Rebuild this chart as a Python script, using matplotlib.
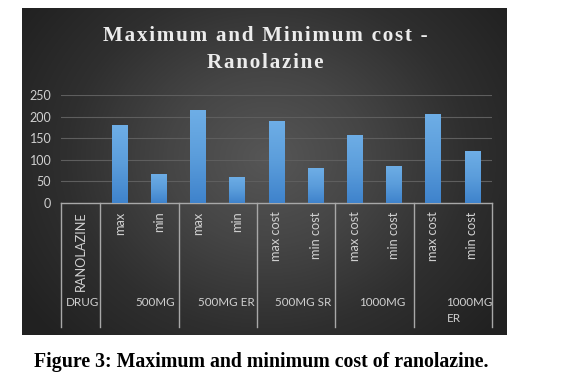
import numpy as np
import matplotlib
matplotlib.use("Agg")
import matplotlib.pyplot as plt
from matplotlib.colors import LinearSegmentedColormap
import matplotlib.transforms as mtransforms

# ---- data ----
categories = ["RANOLAZINE", "max", "min", "max", "min", "max cost", "min cost",
              "max cost", "min cost", "max cost", "min cost"]
values = [None, 180, 68, 215, 61, 190, 80, 158, 86, 207, 120]
groups = ["DRUG", "500MG", "500MG ER", "500MG SR", "1000MG", "1000MG\nER"]
group_sizes = [1, 2, 2, 2, 2, 2]
yticks = [0, 50, 100, 150, 200, 250]

W, H = 583, 380
fig = plt.figure(figsize=(W / 100, H / 100), dpi=100)
fig.patch.set_facecolor("white")

# ---- dark panel with radial gradient ----
px0, px1, py0, py1 = 22, 507, 8, 335
bg = fig.add_axes([px0 / W, 1 - py1 / H, (px1 - px0) / W, (py1 - py0) / H])
bg.set_axis_off()
nx, ny = 485, 327
xx, yy = np.meshgrid(np.arange(nx), np.arange(ny))
cx, cy = 245, 150
r = np.sqrt(((xx - cx) / 300.0) ** 2 + ((yy - cy) / 260.0) ** 2)
r = np.clip(r, 0, 1)
cmap_bg = LinearSegmentedColormap.from_list("bg", ["#565656", "#454545", "#2f2f2f", "#212121"])
bg.imshow(r, cmap=cmap_bg, vmin=0, vmax=1, aspect="auto", interpolation="bilinear")

# ---- plot axes ----
ax_l, ax_r, ax_t, ax_b = 61, 492, 95, 203
ax = fig.add_axes([ax_l / W, 1 - ax_b / H, (ax_r - ax_l) / W, (ax_b - ax_t) / H])
ax.set_facecolor("none")

n = len(categories)
x = np.arange(n)
bx = [i for i, v in enumerate(values) if v is not None]
bv = [v for v in values if v is not None]
bars = ax.bar(bx, bv, width=0.4, color="#5b9bd5", zorder=3)

# gradient fill on bars
cmap_bar = LinearSegmentedColormap.from_list("bar", ["#3f83cc", "#5b9ddb", "#6eaee6"])
grad = np.linspace(0, 1, 100).reshape(-1, 1)
for b in bars:
    x0, y0 = b.get_x(), b.get_y()
    im = ax.imshow(grad, cmap=cmap_bar, origin="lower", aspect="auto",
                   extent=(x0, x0 + b.get_width(), y0, y0 + b.get_height()), zorder=3.5)
    im.set_clip_path(b)

ax.set_xlim(-0.5, n - 0.5)
ax.set_ylim(0, 250)
ax.set_yticks(yticks)
ax.set_yticklabels([str(t) for t in yticks], fontsize=9, color="#d0d0d0", family="Lato")
ax.yaxis.grid(True, color="#5e5e5e", linewidth=0.8, zorder=0)
ax.tick_params(axis="y", length=0, pad=7)
for s in ["top", "right", "left"]:
    ax.spines[s].set_visible(False)
ax.spines["bottom"].set_color("#a8a8a8")
ax.spines["bottom"].set_linewidth(1.0)

ax.set_xticks(x)
ax.set_xticklabels(categories, rotation=90, fontsize=9.2, color="#d0d0d0", family="Lato")
ax.tick_params(axis="x", length=0, pad=6)

# group separators and labels
trans = mtransforms.blended_transform_factory(ax.transData, ax.transAxes)
sep_bottom = -(327 - ax_b) / (ax_b - ax_t)
edges = [-0.5]
for s in group_sizes:
    edges.append(edges[-1] + s)
for e in edges:
    ax.plot([e, e], [0, sep_bottom], transform=trans, color="#a8a8a8",
            linewidth=1.0, clip_on=False, zorder=4)

gy = -(302 - ax_b) / (ax_b - ax_t)
gy2 = -(318 - ax_b) / (ax_b - ax_t)
lab_kw = dict(transform=trans, fontsize=8.4, color="#d0d0d0", family="Lato", va="center")
ax.text(edges[0] + 0.12, gy, groups[0], ha="left", **lab_kw)
ax.text(edges[2] - 0.08, gy, groups[1], ha="right", **lab_kw)
ax.text((edges[2] + edges[3]) / 2 + 0.21, gy, groups[2], ha="center", **lab_kw)
ax.text((edges[3] + edges[4]) / 2 + 0.18, gy, groups[3], ha="center", **lab_kw)
ax.text((edges[4] + edges[5]) / 2 + 0.21, gy, groups[4], ha="center", **lab_kw)
g5a, g5b = groups[5].split("\n")
ax.text(edges[6] - 0.0, gy, g5a, ha="right", **lab_kw)
ax.text(edges[5] + 0.85, gy2, g5b, ha="left", **lab_kw)

# title (slightly letter-spaced)
def spaced(s):
    return "\u200a".join(s)

title_kw = dict(ha="center", va="center", fontsize=15.2, fontweight="bold",
                family="Liberation Serif", color="#ececec")
fig.text(265 / W, 1 - 36 / H, spaced("Maximum and Minimum cost -"), **title_kw)
fig.text(265 / W, 1 - 63 / H, spaced("Ranolazine"), **title_kw)

# caption
fig.text(261 / W, 1 - 362 / H, "Figure 3: Maximum and minimum cost of ranolazine.",
         ha="center", va="center", fontsize=14.3, fontweight="bold",
         family="Liberation Serif", color="black")

fig.savefig("out.png", dpi=100, facecolor="white")
